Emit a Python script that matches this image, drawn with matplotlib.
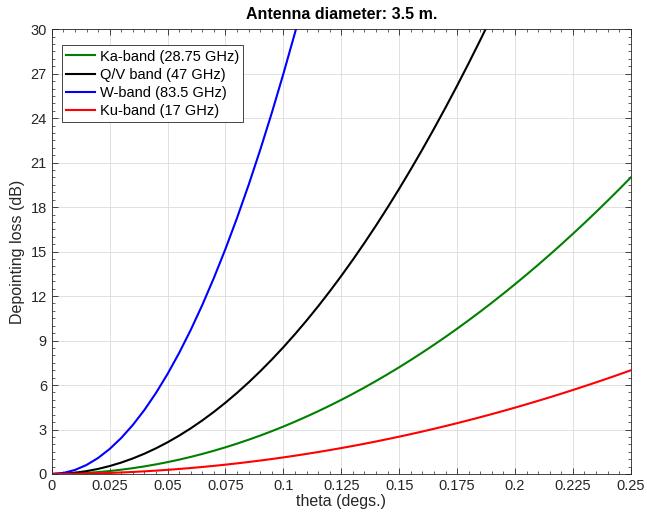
import matplotlib
matplotlib.use("Agg")
import matplotlib.pyplot as plt
from matplotlib.ticker import MultipleLocator

plt.rcParams['font.family'] = ['Liberation Sans', 'DejaVu Sans']

# depointing loss (dB), theta step 0.005 deg
theta = [0, 0.005, 0.01, 0.015, 0.02, 0.025, 0.03, 0.035, 0.04, 0.045,
         0.05, 0.055, 0.06, 0.065, 0.07, 0.075, 0.08, 0.085, 0.09, 0.095,
         0.1, 0.105, 0.11, 0.115, 0.12, 0.125, 0.13, 0.135, 0.14, 0.145,
         0.15, 0.155, 0.16, 0.165, 0.17, 0.175, 0.18, 0.185, 0.19, 0.195,
         0.2, 0.205, 0.21, 0.215, 0.22, 0.225, 0.23, 0.235, 0.24, 0.245, 0.25]
ka_loss = [0, 0.008, 0.032, 0.072, 0.128, 0.2, 0.288, 0.392, 0.512, 0.648,
           0.8, 0.968, 1.152, 1.352, 1.568, 1.8, 2.048, 2.312, 2.592, 2.888,
           3.2, 3.528, 3.872, 4.232, 4.608, 5.0, 5.408, 5.832, 6.272, 6.728,
           7.2, 7.688, 8.192, 8.712, 9.248, 9.8, 10.368, 10.952, 11.552, 12.168,
           12.8, 13.448, 14.112, 14.792, 15.488, 16.2, 16.928, 17.672, 18.432, 19.208, 20.0]
qv_loss = [0, 0.021, 0.086, 0.192, 0.342, 0.535, 0.770, 1.048, 1.368, 1.732,
           2.138, 2.587, 3.078, 3.613, 4.190, 4.810, 5.473, 6.178, 6.927, 7.718,
           8.551, 9.428, 10.347, 11.309, 12.314, 13.361, 14.452, 15.585, 16.760, 17.979,
           19.240, 20.544, 21.891, 23.281, 24.713, 26.188, 27.706, 29.267, 30.870]
w_loss = [0, 0.068, 0.270, 0.607, 1.080, 1.687, 2.429, 3.306, 4.318, 5.466,
          6.748, 8.165, 9.716, 11.403, 13.225, 15.182, 17.274, 19.500, 21.862, 24.358,
          26.990, 29.756, 32.658]
ku_loss = [0, 0.003, 0.011, 0.025, 0.045, 0.070, 0.101, 0.137, 0.179, 0.227,
           0.280, 0.339, 0.403, 0.473, 0.548, 0.629, 0.716, 0.809, 0.906, 1.010,
           1.119, 1.234, 1.354, 1.480, 1.611, 1.748, 1.891, 2.039, 2.193, 2.353,
           2.518, 2.688, 2.865, 3.047, 3.234, 3.427, 3.626, 3.830, 4.040, 4.255,
           4.476, 4.703, 4.935, 5.173, 5.416, 5.665, 5.920, 6.180, 6.445, 6.717, 6.994]

labels = ["Ka-band (28.75 GHz)", "Q/V band (47 GHz)", "W-band (83.5 GHz)", "Ku-band (17 GHz)"]
xticks = [0, 0.025, 0.05, 0.075, 0.1, 0.125, 0.15, 0.175, 0.2, 0.225, 0.25]
xticklabels = ["0", "0.025", "0.05", "0.075", "0.1", "0.125", "0.15", "0.175", "0.2", "0.225", "0.25"]
yticks = [0, 3, 6, 9, 12, 15, 18, 21, 24, 27, 30]

fig = plt.figure(figsize=(6.47, 5.27), dpi=100)
ax = fig.add_axes([0.080, 0.1006, 0.895, 0.844])

ax.plot(theta, ka_loss, color="#008000", lw=1.5, label=labels[0])
ax.plot(theta[:len(qv_loss)], qv_loss, color="black", lw=1.5, label=labels[1])
ax.plot(theta[:len(w_loss)], w_loss, color="blue", lw=1.5, label=labels[2])
ax.plot(theta, ku_loss, color="red", lw=1.5, label=labels[3])

ax.set_xlim(0, 0.25)
ax.set_ylim(0, 30)
ax.set_xticks(xticks)
ax.set_xticklabels(xticklabels)
ax.set_yticks(yticks)
ax.xaxis.set_minor_locator(MultipleLocator(0.005))
ax.yaxis.set_minor_locator(MultipleLocator(0.5))
ax.tick_params(which="both", direction="in", top=True, right=True, colors="#262626",
               labelsize=10.5, labelcolor="#262626")
ax.tick_params(which="major", length=4.5, width=0.6)
ax.tick_params(which="minor", length=2.5, width=0.5)
ax.grid(True, which="major", color="#dcdcdc", lw=0.6)
for s in ax.spines.values():
    s.set_color("#262626")
    s.set_linewidth(0.6)

ax.set_xlabel("theta (degs.)", fontsize=11.5, color="#262626", labelpad=1)
ax.set_ylabel("Depointing loss (dB)", fontsize=11.5, color="#262626", labelpad=4)
ax.set_title("Antenna diameter: 3.5 m.", fontsize=11.5, fontweight="bold", pad=7)

leg = ax.legend(loc="upper left", bbox_to_anchor=(0.017, 0.964), fontsize=10.5,
                fancybox=False, framealpha=1, edgecolor="#262626",
                handlelength=2.0, handletextpad=0.3, borderpad=0.3, labelspacing=0.28,
                borderaxespad=0)
leg.get_frame().set_linewidth(0.6)

fig.savefig("out.png", dpi=100)
